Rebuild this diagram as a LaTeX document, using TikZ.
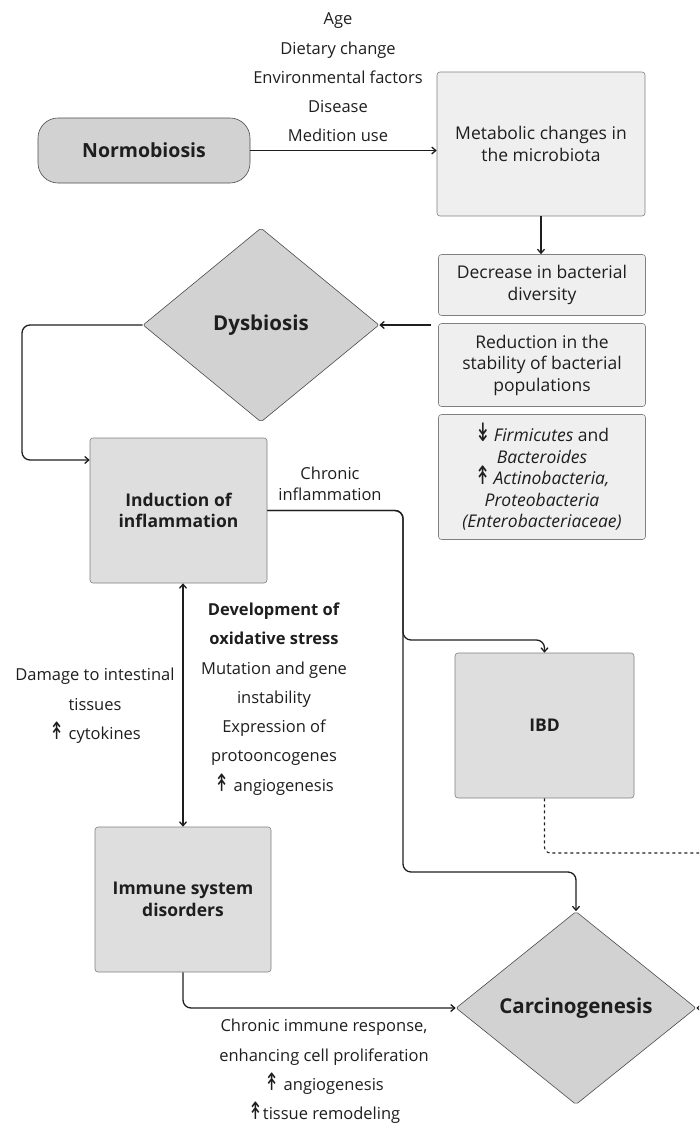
\documentclass[tikz,border=0pt]{standalone}
\usepackage{fontspec}
\setmainfont{Open Sans}
\newfontfamily\arrowfont{DejaVu Sans}
\usetikzlibrary{shapes.geometric,arrows.meta,positioning}
\definecolor{darkfill}{HTML}{D3D2D3}
\definecolor{midfill}{HTML}{DFDEDF}
\definecolor{lightfill}{HTML}{F0EFF0}
\definecolor{inkgray}{HTML}{1E1E1E}
\newcommand{\upar}{\scalebox{1.1}[1.45]{\arrowfont ↟}}
\newcommand{\dnar}{\scalebox{1.1}[1.45]{\arrowfont ↡}}
\tikzset{
  box/.style={draw=black!50, line width=0.6pt, rounded corners=3pt, inner sep=0pt,
              align=center, text=inkgray, font=\fontsize{17.5}{21.5}\selectfont},
  lightbox/.style={box, fill=lightfill},
  midbox/.style={box, fill=midfill, font=\fontsize{17.5}{21.5}\selectfont\bfseries},
  diam/.style={diamond, draw=black!70, line width=0.6pt, fill=darkfill, inner sep=0pt,
               rounded corners=2pt, text=inkgray, font=\fontsize{20.5}{22}\selectfont\bfseries},
  lbl/.style={align=center, text=inkgray, inner sep=0pt, font=\fontsize{16.5}{29.3}\selectfont},
  conn/.style={draw=inkgray, line width=1.3pt, -{Straight Barb[length=4pt,width=7pt]}},
}
\begin{document}
\begin{tikzpicture}[x=1pt,y=-1pt]
\useasboundingbox (0,0) rectangle (699,1127);
\clip (0,0) rectangle (699,1127);
  % boxes
  \node[box, fill=darkfill, draw=black!70, rounded corners=20pt, minimum width=212pt,
        minimum height=65pt, font=\fontsize{19.5}{22}\selectfont\bfseries] (normo) at (144,150.5) {Normobiosis};
  \node[lightbox, minimum width=208pt, minimum height=144pt] (metab) at (541,144) {Metabolic changes in\\the microbiota};
  \node[lightbox, minimum width=207pt, minimum height=61pt] (decr) at (542,285) {Decrease in bacterial\\diversity};
  \node[lightbox, minimum width=207pt, minimum height=83pt] (redu) at (542,365) {Reduction in the\\stability of bacterial\\populations};
  \node[lightbox, minimum width=207pt, minimum height=125pt] (firm) at (542,477)
    {\dnar\,\textit{Firmicutes} and\\\textit{Bacteroides}\\\upar\,\textit{Actinobacteria,}\\\textit{Proteobacteria}\\\textit{(Enterobacteriaceae)}};
  \node[diam, minimum width=236pt, minimum height=194pt] (dysb) at (261,325) {Dysbiosis};
  \node[midbox, minimum width=177pt, minimum height=145pt] (induc) at (178.5,510.5) {Induction of\\inflammation};
  \node[midbox, minimum width=179pt, minimum height=145pt] (ibd) at (544.5,725.5) {IBD};
  \node[midbox, minimum width=176pt, minimum height=145pt] (immun) at (183,899.5) {Immune system\\disorders};
  \node[diam, minimum width=240pt, minimum height=193pt] (carc) at (576,1008) {Carcinogenesis};

  % labels
  \node[lbl] (factors) at (338,77.5) {Age\\Dietary change\\Environmental factors\\Disease\\Medition use};
  \node[lbl, font=\fontsize{16.5}{21}\selectfont] (chron) at (330,483.5) {Chronic\\inflammation};
  \node[lbl] (oxid) at (274,699) {\textbf{Development of}\\\textbf{oxidative stress}\\Mutation and gene\\instability\\Expression of\\protooncogenes\\\upar\ angiogenesis};
  \node[lbl] (damage) at (95,706) {Damage to intestinal\\tissues\\\upar\ cytokines};
  \node[lbl] (immresp) at (324,1071.5) {Chronic immune response,\\enhancing cell proliferation\\\upar\ angiogenesis\\\upar tissue remodeling};

  % connectors
  \coordinate (lft) at (22,460);
  \coordinate (split) at (403,640);
  \coordinate (drop) at (403,872);
  \coordinate (offr) at (730,853);
  \draw[conn] (normo.east) -- (metab.west |- normo.east);
  \draw[conn] (metab.south) -- (metab.south |- decr.north);
  \draw[conn] ([xshift=-7pt]dysb.east -| redu.west) -- (dysb.east);
  \draw[conn, rounded corners=8pt] (dysb.west) -| (lft) -- (lft -| induc.west);
  \draw[conn, rounded corners=8pt] (induc.east) -| (split) -| (ibd.north);
  \draw[conn, rounded corners=8pt] (induc.east) -| (drop) -| (carc.north);
  \draw[conn, {Straight Barb[length=4pt,width=7pt]}-{Straight Barb[length=4pt,width=7pt]}]
    (immun.north |- induc.south) -- (immun.north);
  \draw[conn, rounded corners=8pt] (immun.south) |- (carc.west);
  \draw[conn, line width=1.1pt, dashed, rounded corners=6pt] (ibd.south) |- (offr) |- (carc.east);
\end{tikzpicture}
\end{document}
